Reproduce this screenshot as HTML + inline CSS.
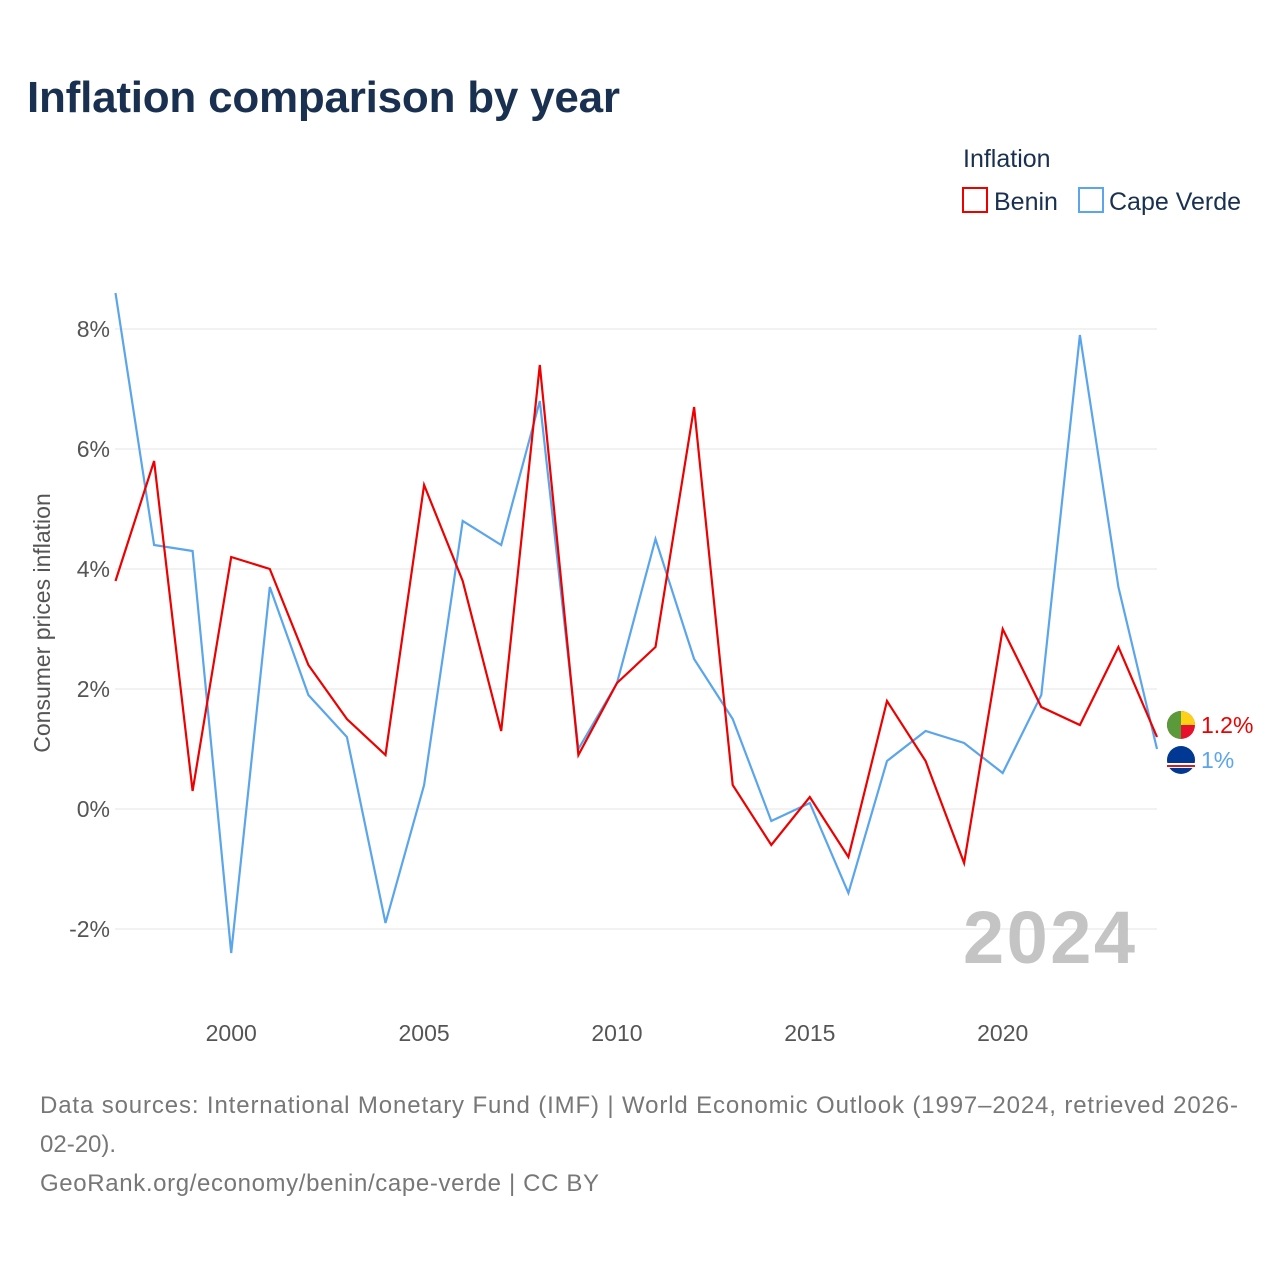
<!DOCTYPE html>
<html><head><meta charset="utf-8">
<style>
body{margin:0;background:#fff;font-family:"Liberation Sans",sans-serif;}
#wrap{position:relative;width:1280px;height:1280px;overflow:hidden;}
</style></head>
<body>
<div id="wrap">
<svg id="chart" width="1280" height="1280">
  <text x="27" y="112" font-size="44" font-weight="bold" fill="#1a3050" textLength="593">Inflation comparison by year</text>
  <text x="963" y="167" font-size="25" fill="#1a3050">Inflation</text>
  <g>
    <rect x="963" y="188" width="24" height="24" fill="none" stroke="#ee0000" stroke-width="2"/>
    <text x="994" y="210" font-size="25" fill="#1a3050">Benin</text>
  </g>
  <g>
    <rect x="1079" y="188" width="24" height="24" fill="none" stroke="#5aa5ec" stroke-width="2"/>
    <text x="1109" y="210" font-size="25" fill="#1a3050">Cape Verde</text>
  </g>
  <g id="grid"></g>
  <g id="yticks"></g>
  <g id="xticks"></g>
  <text x="0" y="0" transform="translate(50,623) rotate(-90)" text-anchor="middle" font-size="23" fill="#555">Consumer prices inflation</text>
  <text x="1135" y="963" text-anchor="end" font-size="74" font-weight="bold" fill="#c4c4c4" textLength="172">2024</text>
  <g id="series"></g>
  <g>
    <circle cx="1181" cy="725" r="14" fill="#e8112d"/>
    <path d="M1181 711 A14 14 0 0 1 1195 725 L1181 725Z" fill="#fcd116"/>
    <path d="M1181 711 A14 14 0 0 0 1181 739 Z" fill="#5a9a3a"/>
    <text x="1201" y="733" font-size="23" fill="#ee0000">1.2%</text>
  </g>
  <g>
    <circle cx="1181" cy="760" r="14" fill="#003893"/>
    <rect x="1167" y="763" width="28" height="5" fill="#fff"/>
    <rect x="1167" y="765" width="28" height="2" fill="#cf2027"/>
    <text x="1201" y="768" font-size="23" fill="#5aa5ec">1%</text>
  </g>
  <text x="40" y="1113" font-size="24" fill="#777" textLength="1198">Data sources: International Monetary Fund (IMF) | World Economic Outlook (1997–2024, retrieved 2026-</text>
  <text x="40" y="1152" font-size="24" fill="#777">02-20).</text>
  <text x="40" y="1191" font-size="24" fill="#777" textLength="559">GeoRank.org/economy/benin/cape-verde | CC BY</text>
</svg>
</div>
<script>
const years=[1997,1998,1999,2000,2001,2002,2003,2004,2005,2006,2007,2008,2009,2010,2011,2012,2013,2014,2015,2016,2017,2018,2019,2020,2021,2022,2023,2024];
const benin=[3.8,5.8,0.3,4.2,4.0,2.4,1.5,0.9,5.4,3.8,1.3,7.4,0.9,2.1,2.7,6.7,0.4,-0.6,0.2,-0.8,1.8,0.8,-0.9,3.0,1.7,1.4,2.7,1.2];
const capeVerde=[8.6,4.4,4.3,-2.4,3.7,1.9,1.2,-1.9,0.4,4.8,4.4,6.8,1.0,2.1,4.5,2.5,1.5,-0.2,0.1,-1.4,0.8,1.3,1.1,0.6,1.9,7.9,3.7,1.0];
const yTicks=[-2,0,2,4,6,8];
const yTickLabels=["-2%","0%","2%","4%","6%","8%"];
const xTicks=[2000,2005,2010,2015,2020];
const NS="http://www.w3.org/2000/svg";
function xs(yr){return 115.5+(yr-1997)*(1157-115.5)/27;}
function ys(v){return 809-v*60;}
function mk(tag,attrs,parent){const e=document.createElementNS(NS,tag);for(const k in attrs)e.setAttribute(k,attrs[k]);parent.appendChild(e);return e;}
const grid=document.getElementById('grid'),yt=document.getElementById('yticks'),xt=document.getElementById('xticks'),ser=document.getElementById('series');
yTicks.forEach((v,i)=>{
  const l=mk('line',{x1:115,x2:1157,y1:ys(v),y2:ys(v),stroke:'#e6e6e6','stroke-width':1},grid);
  
  
  const t=mk('text',{x:110,y:ys(v)+8,'text-anchor':'end','font-size':23,fill:'#555'},yt);
  t.textContent=yTickLabels[i];
  
  
});
xTicks.forEach(yr=>{
  const t=mk('text',{x:xs(yr),y:1041,'text-anchor':'middle','font-size':23,fill:'#555'},xt);
  t.textContent=yr;
  
  
});
function line(vals,color,name){
  const d=vals.map((v,i)=>(i?'L':'M')+xs(years[i]).toFixed(1)+' '+ys(v).toFixed(1)).join(' ');
  const p=mk('path',{d:d,fill:'none',stroke:color,'stroke-width':2.2,'stroke-linejoin':'miter'},ser);
  
  
}
line(capeVerde,'#5aa5ec','line-cape-verde');
line(benin,'#ee0000','line-benin');
</script>
</body></html>
